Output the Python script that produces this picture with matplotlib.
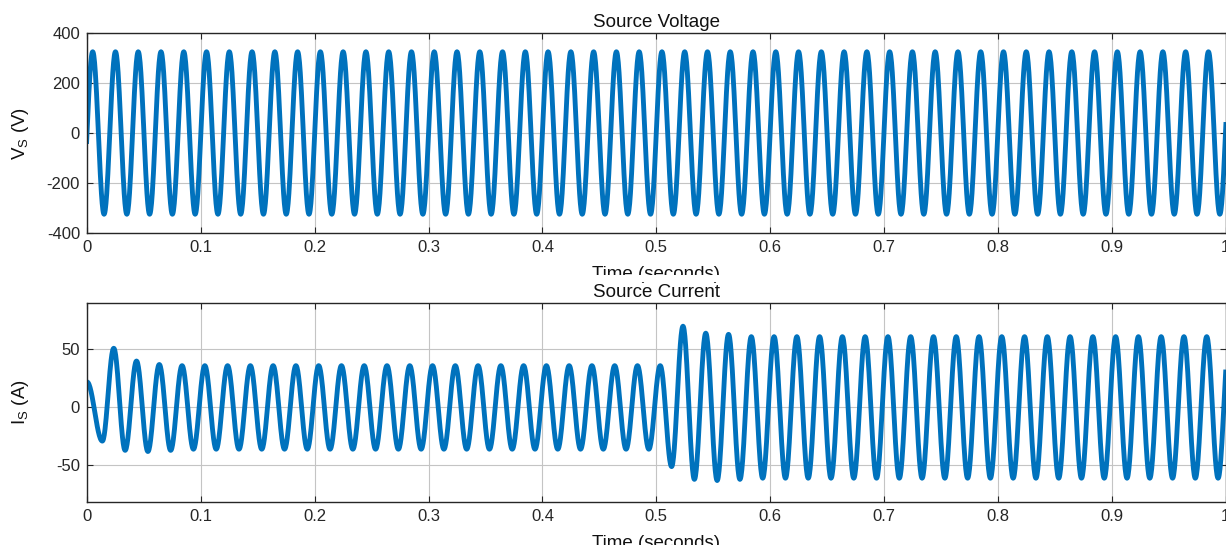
import numpy as np
import matplotlib
matplotlib.use('Agg')
import matplotlib.pyplot as plt
from matplotlib.patches import Rectangle
from matplotlib.ticker import FuncFormatter

# ---- data ----
# source voltage: 50 Hz, one peak / one trough per cycle (V)
vs_peaks = [325, 325, 325, 325, 325, 325, 325, 325, 325, 325,
            325, 325, 325, 325, 325, 325, 325, 325, 325, 325,
            325, 325, 325, 325, 325, 325, 325, 325, 325, 325,
            325, 325, 325, 325, 325, 325, 325, 325, 325, 325,
            325, 325, 325, 325, 325, 325, 325, 325, 325, 325, 325]
vs_troughs = [-325, -325, -325, -325, -325, -325, -325, -325, -325, -325,
              -325, -325, -325, -325, -325, -325, -325, -325, -325, -325,
              -325, -325, -325, -325, -325, -325, -325, -325, -325, -325,
              -325, -325, -325, -325, -325, -325, -325, -325, -325, -325,
              -325, -325, -325, -325, -325, -325, -325, -325, -325, -325, -325]
vs_first_trough = -0.005   # s, first trough (just before t=0)

# source current (A): start value, first (inrush) trough, then peak/trough per cycle
is_start = (0.0, 22)
is_dip = (0.0135, -29)
is_first_peak = 0.0235     # s
is_peaks = [51, 40, 37, 36, 36, 36, 36, 36, 36, 36,
            36, 36, 36, 36, 36, 36, 36, 36, 36, 36,
            36, 36, 36, 36, 36, 70, 64, 63, 61, 61,
            61, 61, 61, 61, 61, 61, 61, 61, 61, 61,
            61, 61, 61, 61, 61, 61, 61, 61, 61, 61, 61]
is_troughs = [-37, -38, -37, -36, -36, -36, -36, -36, -36, -36,
              -36, -36, -36, -36, -36, -36, -36, -36, -36, -36,
              -36, -36, -36, -36, -51, -62, -63, -62, -61, -61,
              -61, -61, -61, -61, -61, -61, -61, -61, -61, -61,
              -61, -61, -61, -61, -61, -61, -61, -61, -61, -61]

period = 0.02
x_ticks = [0, 0.1, 0.2, 0.3, 0.4, 0.5, 0.6, 0.7, 0.8, 0.9, 1.0]


def join_extrema(t_ext, v_ext, n=30):
    """Join successive extrema with half-cosine arcs (sine-shaped wave)."""
    ts, vs = [], []
    for i in range(len(t_ext) - 1):
        s = np.linspace(0, 1, n, endpoint=False)
        ts.append(t_ext[i] + (t_ext[i + 1] - t_ext[i]) * s)
        vs.append(v_ext[i] + (v_ext[i + 1] - v_ext[i]) * (1 - np.cos(np.pi * s)) / 2)
    ts.append([t_ext[-1]])
    vs.append([v_ext[-1]])
    return np.concatenate(ts), np.concatenate(vs)


def interleave(first_t, a, b):
    t, v = [], []
    for k in range(max(len(a), len(b))):
        if k < len(a):
            t.append(first_t + k * period)
            v.append(a[k])
        if k < len(b):
            t.append(first_t + k * period + period / 2)
            v.append(b[k])
    return t, v


tv, vv = interleave(vs_first_trough, vs_troughs, vs_peaks)
t_v, v_s = join_extrema(tv, vv)

ti, vi = interleave(is_first_peak, is_peaks, is_troughs)
t_i, i_s = join_extrema([is_start[0], is_dip[0]] + ti, [is_start[1], is_dip[1]] + vi)

# ---- figure ----
plt.rcParams['font.family'] = ['Liberation Sans', 'DejaVu Sans']
plt.rcParams['axes.unicode_minus'] = False
W, H = 1226, 545
fig = plt.figure(figsize=(W / 100, H / 100), dpi=100)

blue = '#0072BD'
edge = '#262626'


def px_axes(left, top, right, bottom):
    return fig.add_axes([left / W, 1 - bottom / H, (right - left) / W, (bottom - top) / H])


def style(ax, title, ylabel):
    ax.set_xlim(0, 1)
    ax.set_xticks(x_ticks)
    ax.xaxis.set_major_formatter(FuncFormatter(lambda x, p: f'{x:g}'))
    ax.grid(True, color='#c4c4c4', linewidth=0.8)
    ax.set_axisbelow(True)
    for s in ax.spines.values():
        s.set_color(edge)
        s.set_linewidth(1.0)
    ax.tick_params(direction='in', length=4, width=0.8, colors=edge, labelsize=12,
                   top=True, right=True, pad=5)
    ax.set_title(title, fontsize=13.5, color='#111111', pad=4.5)
    ax.set_xlabel('Time (seconds)', fontsize=13.5, color='#111111')
    ax.xaxis.set_label_coords(0.5, -0.165)
    ax.set_ylabel(ylabel, fontsize=13.5, color='#111111')
    ax.yaxis.set_label_coords(-0.049, 0.5)


ax1 = px_axes(87, 33, 1225.5, 233)
ax1.plot(t_v, v_s, color=blue, linewidth=3.5)
ax1.set_ylim(-400, 400)
ax1.set_yticks([-400, -200, 0, 200, 400])
style(ax1, 'Source Voltage', r'$\mathregular{V_S}$ (V)')

ax2 = px_axes(87, 303, 1225.5, 502)
ax2.plot(t_i, i_s, color=blue, linewidth=3.5)
ax2.set_ylim(-81.5, 90)
ax2.set_yticks([-50, 0, 50])
style(ax2, 'Source Current', r'$\mathregular{I_S}$ (A)')

# the upper panel was cropped just through its x-axis label
fig.add_artist(Rectangle((0, 1 - 282 / H), 1, 7 / H, transform=fig.transFigure,
                         facecolor='white', edgecolor='none', zorder=5))

fig.savefig('out.png', dpi=100)
